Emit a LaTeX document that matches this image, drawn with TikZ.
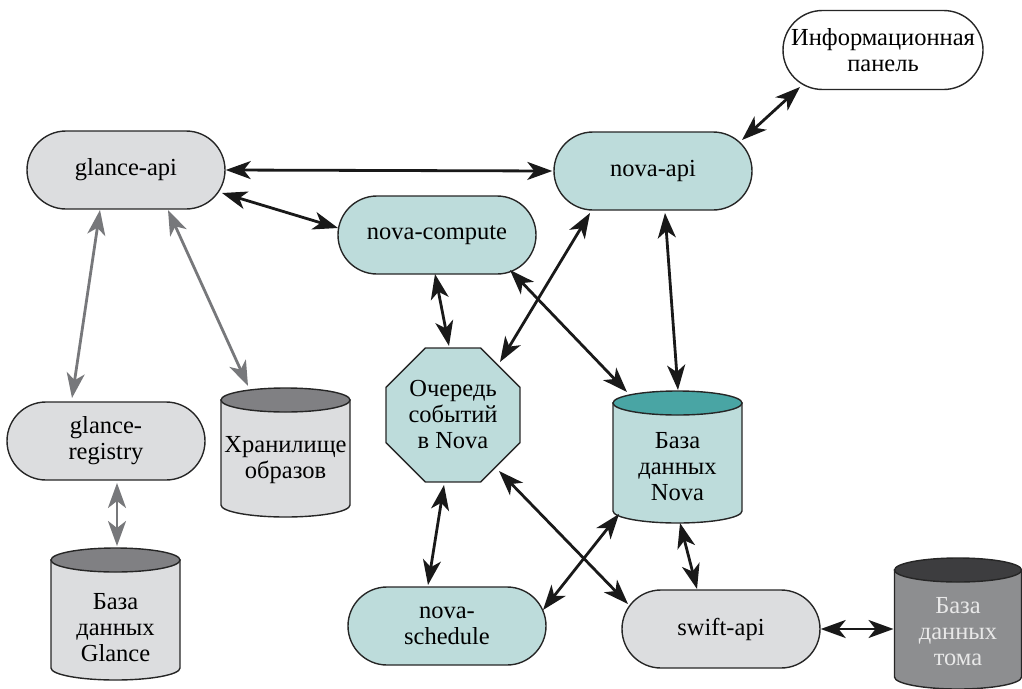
\documentclass[tikz,border=0pt]{standalone}
\usepackage{fontspec}
\setmainfont{Liberation Serif}
\usetikzlibrary{shapes.misc,shapes.geometric,arrows.meta,calc}
\definecolor{gfill}{HTML}{DCDDDF}
\definecolor{tfill}{HTML}{BDDCDB}
\definecolor{gtop}{HTML}{808083}
\definecolor{ttop}{HTML}{49A5A4}
\definecolor{vbody}{HTML}{8D8E90}
\definecolor{vtop}{HTML}{3D3D3F}
\definecolor{garrow}{HTML}{77787B}
\definecolor{vtext}{HTML}{E8E8E8}
\newcommand\dbcyl[6]{%
  \filldraw[fill=#5,cylline] ($(#1,#3)+(-#2,0)$) -- ($(#1,#4)+(-#2,0)$)
     arc[start angle=180,end angle=360,x radius=#2,y radius=12] -- ($(#1,#3)+(#2,0)$) -- cycle;
  \filldraw[fill=#6,cylline] (#1,#3) ellipse[x radius=#2,y radius=12];
}
\tikzset{
  txt/.style={font=\fontsize{24.5}{26}\selectfont, align=center},
  stadium/.style={txt, rounded rectangle, draw=black!85, line width=1.4pt,
     minimum width=198pt, minimum height=78pt, inner sep=0pt},
  octo/.style={txt, regular polygon, regular polygon sides=8, draw=black!85,
     line width=1.4pt, minimum size=145pt, inner sep=0pt, fill=tfill},
  cylline/.style={draw=black!85, line width=1.4pt},
  conn/.style={line width=2.8pt, black!90,
     {Stealth[length=25pt,width=18pt,inset=7pt]}-{Stealth[length=25pt,width=18pt,inset=7pt]}},
  gconn/.style={conn, garrow},
}
\begin{document}
\begin{tikzpicture}[x=1pt,y=1pt]
\useasboundingbox (0,0) rectangle (1022,-688);
% stadium nodes
\node[stadium, fill=gfill] (ga) at (126,-170) {glance-api};
\node[stadium, fill=tfill] (na) at (653,-171) {nova-api};
\node[stadium, fill=white, minimum width=200pt, minimum height=79pt] (ip) at (883,-50) {Информационная\\панель};
\node[stadium, fill=tfill] (nc) at (437,-235) {nova-compute};
\node[stadium, fill=gfill] (gr) at (106,-441) {glance-\\registry};
\node[stadium, fill=tfill] (ns) at (447,-626) {nova-\\schedule};
\node[stadium, fill=gfill] (sa) at (721,-629) {swift-api};
\node[octo] (oct) at (453,-415) {Очередь\\событий\\в Nova};
% cylinders
\dbcyl{285.5}{64.5}{-400}{-505}{gfill}{gtop}
\node[txt] (hr) at (285.5,-460) {Хранилище\\образов};
\dbcyl{115.5}{64.5}{-560}{-668}{gfill}{gtop}
\node[txt] (gdb) at (115.5,-628) {База\\данных\\Glance};
\dbcyl{677.5}{64.5}{-403}{-511}{tfill}{ttop}
\node[txt] (ndb) at (677.5,-467) {База\\данных\\Nova};
\dbcyl{958}{63.5}{-570}{-677}{vbody}{vtop}
\node[txt, text=vtext] (vdb) at (958,-632) {База\\данных\\тома};
% connectors
\draw[conn] (ga.east) -- ([shift={(-1,0)}]na.west);
\draw[conn] ([shift={(96,-23)}]ga.center) -- ([shift={(-99,7)}]nc.center);
\draw[conn] ([shift={(89,31)}]na.center) -- ([shift={(-83,-37)}]ip.center);
\draw[gconn] ([shift={(-26,-40)}]ga.center) -- ([shift={(-34,43)}]gr.center);
\draw[gconn] ([shift={(42,-40)}]ga.center) -- ([shift={(-37.5,74)}]hr.center);
\draw[gconn] ([shift={(11,-42)}]gr.center) -- ([shift={(1.5,82)}]gdb.center);
\draw[conn] ([shift={(-2,-39)}]nc.center) -- ([shift={(-4,69)}]oct.center);
\draw[conn] ([shift={(-63,-42)}]na.center) -- ([shift={(47,53)}]oct.center);
\draw[conn] ([shift={(73,-35)}]nc.center) -- ([shift={(-50.5,75)}]ndb.center);
\draw[conn] ([shift={(12,-42)}]na.center) -- ([shift={(0.5,77)}]ndb.center);
\draw[conn] ([shift={(-9,-70)}]oct.center) -- ([shift={(-19,41)}]ns.center);
\draw[conn] ([shift={(46,-56)}]oct.center) -- ([shift={(-93,25)}]sa.center);
\draw[conn] ([shift={(-58.5,-47)}]ndb.center) -- ([shift={(96,16)}]ns.center);
\draw[conn] ([shift={(2.5,-56)}]ndb.center) -- ([shift={(-24,40)}]sa.center);
\draw[conn] (sa.east) -- ([shift={(-64.5,3)}]vdb.center);
\end{tikzpicture}
\end{document}
